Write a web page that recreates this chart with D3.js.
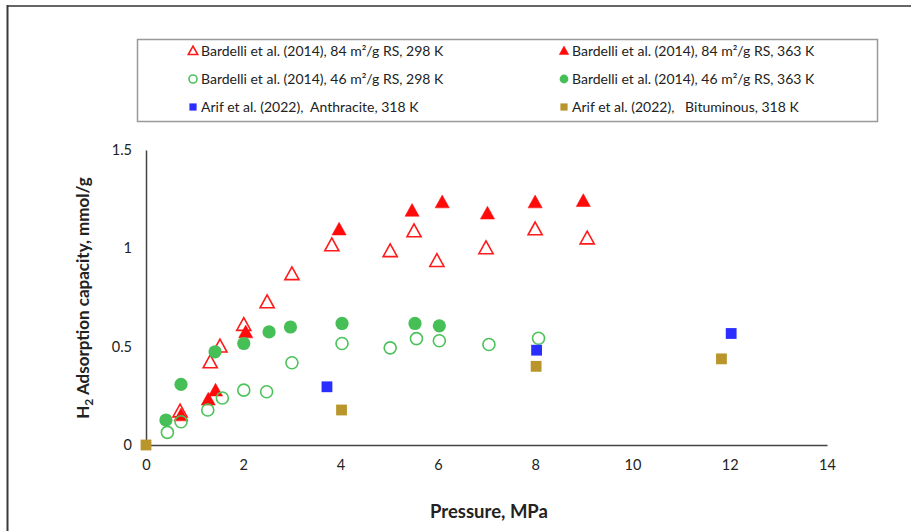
<!DOCTYPE html>
<html>
<head>
<meta charset="utf-8">
<script src="https://cdn.jsdelivr.net/npm/d3@7"></script>
<style>
  body { margin: 0; background: #fff; }
  text { font-family: Lato, "Open Sans", sans-serif; fill: #222; }
</style>
</head>
<body>
<script>

  // series: [pressure MPa, adsorption mmol/g]
  var rs84_298 = [[0.70,0.17],[1.32,0.42],[1.52,0.50],[2.01,0.61],[2.49,0.725],[3.0,0.868],
                  [3.82,1.015],[5.02,0.985],[5.51,1.086],[5.98,0.935],[6.99,1.0],[8.0,1.096],[9.07,1.05]];
  var rs84_363 = [[0.72,0.15],[1.28,0.23],[1.43,0.276],[2.05,0.572],[3.97,1.095],[5.47,1.19],
                  [6.09,1.233],[7.02,1.176],[8.0,1.233],[8.99,1.24]];
  var rs46_298 = [[0.44,0.064],[0.72,0.118],[1.27,0.178],[1.57,0.239],[2.01,0.279],[2.48,0.271],
                  [3.0,0.418],[4.03,0.516],[5.02,0.494],[5.56,0.541],[6.03,0.53],[7.05,0.511],[8.07,0.543]];
  var rs46_363 = [[0.41,0.127],[0.72,0.308],[1.42,0.474],[2.01,0.516],[2.53,0.575],[2.97,0.60],
                  [4.03,0.618],[5.53,0.618],[6.03,0.606]];
  var anthracite = [[3.72,0.296],[8.03,0.482],[12.03,0.567]];
  var bituminous = [[0,0],[4.02,0.178],[8.02,0.40],[11.83,0.438]];

  var xTicks = [0, 2, 4, 6, 8, 10, 12, 14];
  var yTicks = [0, 0.5, 1, 1.5];

  var series = [
    {name: "Bardelli et al. (2014), 84 m\u00b2/g RS, 298 K", data: rs84_298, shape: "tri", fill: false, color: "#ff1a1a"},
    {name: "Bardelli et al. (2014), 84 m\u00b2/g RS, 363 K", data: rs84_363, shape: "tri", fill: true, color: "#ff0a0a"},
    {name: "Bardelli et al. (2014), 46 m\u00b2/g RS, 298 K", data: rs46_298, shape: "circ", fill: false, color: "#4cc25a"},
    {name: "Bardelli et al. (2014), 46 m\u00b2/g RS, 363 K", data: rs46_363, shape: "circ", fill: true, color: "#47bf57"},
    {name: "Arif et al. (2022),  Anthracite, 318 K", data: anthracite, shape: "sq", fill: true, color: "#2a2eff"},
    {name: "Arif et al. (2022),   Bituminous, 318 K", data: bituminous, shape: "sq", fill: true, color: "#b9952b"}
  ];

  var w = 911, h = 531;
  var svg = d3.select("body").append("svg").attr("width", w).attr("height", h);

  // outer frame (top and left only visible)
  svg.append("line").attr("x1", 7).attr("x2", w).attr("y1", 6).attr("y2", 6)
     .attr("stroke", "#666").attr("stroke-width", 2);
  svg.append("line").attr("x1", 7.5).attr("x2", 7.5).attr("y1", 5).attr("y2", h)
     .attr("stroke", "#3a3a3a").attr("stroke-width", 2);

  var x = d3.scaleLinear().domain([0, 14]).range([146, 827]);
  var y = d3.scaleLinear().domain([0, 1.5]).range([445, 150]);

  var xAxis = svg.append("g").attr("transform", "translate(0," + y(0) + ")")
     .call(d3.axisBottom(x).tickValues(xTicks).tickSize(0).tickPadding(15).tickFormat(d3.format("d")));
  var yAxis = svg.append("g").attr("transform", "translate(" + x(0) + ",0)")
     .call(d3.axisLeft(y).tickValues(yTicks).tickSize(0).tickPadding(14).tickFormat(function(d) { return d; }));

  [xAxis, yAxis].forEach(function(a) {
    a.select(".domain").attr("stroke", "#444").attr("stroke-width", 1.5);
    a.selectAll("text").style("font-size", "14.5px").attr("fill", "#222");
  });

  function marker(sel, s, size) {
    var c = s.color;
    if (s.shape == "tri") {
      var r = size * 0.62;
      sel.append("path")
        .attr("d", "M0," + (-r) + "L" + (r * 0.95) + "," + (r * 0.72) + "L" + (-r * 0.95) + "," + (r * 0.72) + "Z")
        .attr("fill", s.fill ? c : "none").attr("stroke", c).attr("stroke-width", s.fill ? 0.5 : 1.6);
    } else if (s.shape == "circ") {
      sel.append("circle").attr("r", s.fill ? size * 0.55 : size * 0.5)
        .attr("fill", s.fill ? c : "none").attr("stroke", c).attr("stroke-width", s.fill ? 0 : 1.6);
    } else {
      var a = size * 0.9;
      sel.append("rect").attr("x", -a / 2).attr("y", -a / 2).attr("width", a).attr("height", a)
        .attr("fill", c);
    }
  }

  series.forEach(function(s) {
    svg.append("g").selectAll("g")
      .data(s.data).enter().append("g")
      .attr("transform", function(d) { return "translate(" + x(d[0]) + "," + y(d[1]) + ")"; })
      .each(function() { marker(d3.select(this), s, 12); });
  });

  // axis titles
  svg.append("text").attr("x", 489).attr("y", 518)
     .attr("text-anchor", "middle").style("font-size", "18.5px").style("font-weight", "bold")
     .text("Pressure, MPa");

  var yt = svg.append("text").attr("transform", "translate(89,298) rotate(-90)")
     .attr("text-anchor", "middle").style("font-size", "17px").style("font-weight", "bold");
  yt.append("tspan").text("H");
  yt.append("tspan").attr("dy", 4).style("font-size", "12px").text("2");
  yt.append("tspan").attr("dy", -4).text(" Adsorption capacity, mmol/g");

  // legend
  svg.append("rect").attr("x", 137.5).attr("y", 39.5).attr("width", 740).attr("height", 82)
     .attr("fill", "none").attr("stroke", "#999").attr("stroke-width", 1.5);

  var legX = [193, 564], legY = [51, 79, 107];
  series.forEach(function(s, i) {
    var lx = legX[i % 2], ly = legY[Math.floor(i / 2)];
    var g = svg.append("g").attr("transform", "translate(" + lx + "," + ly + ")");
    marker(g, s, 8);
    g.append("text").attr("x", 8).attr("y", 5).style("font-size", "14px")
      .style("white-space", "pre").attr("xml:space", "preserve").text(s.name);
  });

</script>
</body>
</html>
